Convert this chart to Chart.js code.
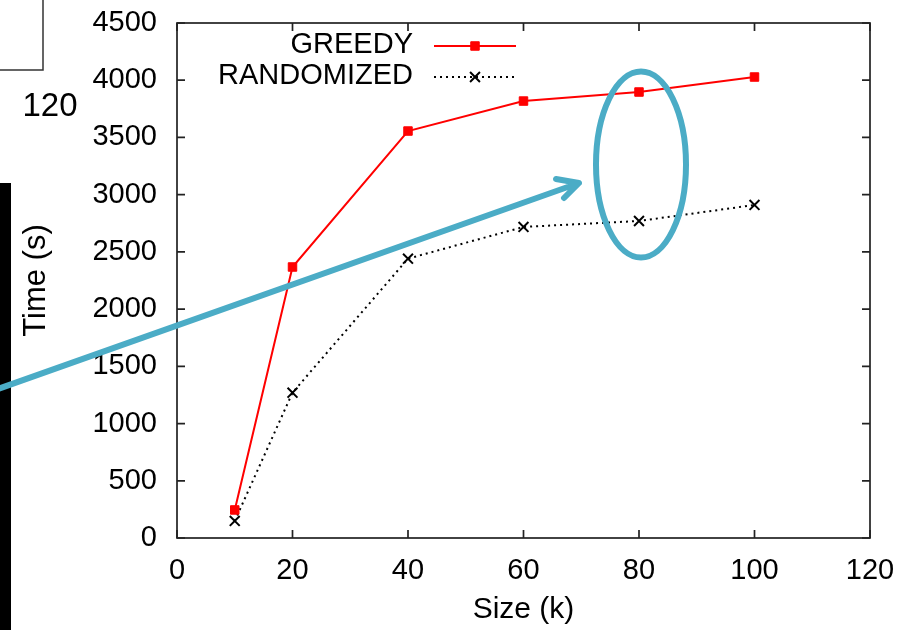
<!DOCTYPE html>
<html>
<head>
<meta charset="utf-8">
<script src="https://cdn.jsdelivr.net/npm/chart.js@4"></script>
<style>
  html, body { margin: 0; padding: 0; background: #fff; }
  #wrap { width: 909px; height: 630px; }
</style>
</head>
<body>
<div id="wrap"><canvas id="timeChart" width="909" height="630"></canvas></div>
<script>
// data
const sizes = [10, 20, 40, 60, 80, 100];
const greedyTimes = [245, 2368, 3556, 3818, 3897, 4028];
const randomizedTimes = [149, 1270, 2441, 2718, 2770, 2910];
const seriesNames = ['GREEDY', 'RANDOMIZED'];

const FONT = '"Liberation Sans", Arial, sans-serif';
const FRAME = '#222';
const ANNOT = '#4bacc6';

// frame with inward ticks on all four sides (gnuplot style)
const frameTicks = {
  id: 'frameTicks',
  afterDraw(chart) {
    const { ctx, chartArea: a, scales: { x, y } } = chart;
    ctx.save();
    ctx.strokeStyle = FRAME;
    ctx.lineWidth = 1.7;
    ctx.strokeRect(a.left, a.top, a.right - a.left, a.bottom - a.top);
    const len = 8;
    ctx.beginPath();
    x.ticks.forEach(t => {
      const px = x.getPixelForValue(t.value);
      ctx.moveTo(px, a.bottom); ctx.lineTo(px, a.bottom - len);
      ctx.moveTo(px, a.top); ctx.lineTo(px, a.top + len);
    });
    y.ticks.forEach(t => {
      const py = y.getPixelForValue(t.value);
      ctx.moveTo(a.left, py); ctx.lineTo(a.left + len, py);
      ctx.moveTo(a.right, py); ctx.lineTo(a.right - len, py);
    });
    ctx.stroke();
    ctx.restore();
  }
};

// key in the top-left corner: text right aligned, sample on its right
const keyBox = {
  id: 'keyBox',
  afterDraw(chart) {
    const { ctx } = chart;
    const textRight = 413, x0 = 434, x1 = 516, mid = 475;
    const rows = [46, 77];
    ctx.save();
    ctx.font = '29px ' + FONT;
    ctx.textAlign = 'right';
    ctx.textBaseline = 'middle';
    chart.data.datasets.forEach((ds, i) => {
      const yy = rows[i];
      ctx.fillStyle = '#000';
      ctx.fillText(ds.label, textRight, yy - 1);
      ctx.beginPath();
      ctx.strokeStyle = ds.borderColor;
      ctx.lineWidth = ds.borderWidth;
      ctx.setLineDash(ds.borderDash || []);
      ctx.moveTo(x0, yy); ctx.lineTo(x1, yy);
      ctx.stroke();
      ctx.setLineDash([]);
      ctx.fillStyle = ds.pointBackgroundColor;
      ctx.strokeStyle = ds.pointBorderColor;
      ctx.lineWidth = ds.pointBorderWidth;
      ctx.beginPath();
      const s = Math.SQRT1_2 * ds.pointRadius;
      if (ds.pointStyle === 'rect') {
        ctx.rect(mid - s, yy - s, 2 * s, 2 * s);
        ctx.fill(); ctx.stroke();
      } else {
        ctx.moveTo(mid - s, yy - s); ctx.lineTo(mid + s, yy + s);
        ctx.moveTo(mid + s, yy - s); ctx.lineTo(mid - s, yy + s);
        ctx.stroke();
      }
    });
    ctx.restore();
  }
};

// slide leftovers drawn over the plot: box corner, stray "120", dark bar, arrow, ellipse
const slideMarks = {
  id: 'slideMarks',
  afterDraw(chart) {
    const { ctx } = chart;
    ctx.save();
    // box corner at the top left
    ctx.strokeStyle = '#333';
    ctx.lineWidth = 1.5;
    ctx.beginPath();
    ctx.moveTo(0, 70); ctx.lineTo(43, 70); ctx.lineTo(43, 0);
    ctx.stroke();
    // stray label
    ctx.font = '33px ' + FONT;
    ctx.fillStyle = '#000';
    ctx.textAlign = 'center';
    ctx.textBaseline = 'middle';
    ctx.fillText('120', 50, 107);
    // dark bar on the left edge
    ctx.fillRect(0, 183, 11, 447);
    // arrow
    ctx.strokeStyle = ANNOT;
    ctx.lineWidth = 6;
    ctx.lineCap = 'round';
    ctx.lineJoin = 'round';
    ctx.beginPath();
    ctx.moveTo(-5, 390); ctx.lineTo(579, 183);
    ctx.moveTo(556, 179); ctx.lineTo(579, 183); ctx.lineTo(564, 198);
    ctx.stroke();
    // ellipse around the 80k points
    ctx.beginPath();
    ctx.ellipse(641, 164.5, 45, 93, 0, 0, Math.PI * 2);
    ctx.stroke();
    ctx.restore();
  }
};

const ctx = document.getElementById('timeChart').getContext('2d');
new Chart(ctx, {
  type: 'line',
  data: {
    datasets: [{
      label: seriesNames[0],
      data: sizes.map((s, i) => ({ x: s, y: greedyTimes[i] })),
      borderColor: '#ff0000',
      borderWidth: 2,
      pointStyle: 'rect',
      pointRadius: 6,
      pointBorderWidth: 1,
      pointBackgroundColor: '#ff0000',
      pointBorderColor: '#ff0000',
      tension: 0
    }, {
      label: seriesNames[1],
      data: sizes.map((s, i) => ({ x: s, y: randomizedTimes[i] })),
      borderColor: '#000000',
      borderWidth: 2,
      borderDash: [2, 4],
      pointStyle: 'crossRot',
      pointRadius: 7,
      pointBorderWidth: 2,
      pointBackgroundColor: '#000000',
      pointBorderColor: '#000000',
      tension: 0
    }]
  },
  options: {
    responsive: false,
    animation: false,
    events: [],
    layout: { padding: { top: 23, right: 39, left: 0, bottom: 0 } },
    plugins: {
      legend: { display: false },
      tooltip: { enabled: false }
    },
    scales: {
      x: {
        type: 'linear',
        min: 0,
        max: 120,
        ticks: {
          stepSize: 20,
          color: '#000',
          padding: 16,
          maxRotation: 0,
          font: { family: FONT, size: 29 }
        },
        grid: { display: true, drawOnChartArea: false, drawTicks: false },
        border: { display: false },
        title: {
          display: true,
          text: 'Size (k)',
          color: '#000',
          padding: { top: 0, bottom: 2 },
          font: { family: FONT, size: 30 }
        },
        afterFit: scale => {
          scale.height = 92;
          scale.paddingLeft = 0;
          scale.paddingRight = 0;
        }
      },
      y: {
        type: 'linear',
        min: 0,
        max: 4500,
        ticks: {
          stepSize: 500,
          color: '#000',
          padding: 20,
          font: { family: FONT, size: 29 },
          callback: v => String(v)
        },
        grid: { display: true, drawOnChartArea: false, drawTicks: false },
        border: { display: false },
        title: {
          display: true,
          text: 'Time (s)',
          color: '#000',
          padding: { top: 18, bottom: 0 },
          font: { family: FONT, size: 31 }
        },
        afterFit: scale => {
          scale.width = 177;
          scale.paddingTop = 0;
          scale.paddingBottom = 0;
        }
      }
    }
  },
  plugins: [frameTicks, keyBox, slideMarks]
});
</script>
</body>
</html>
